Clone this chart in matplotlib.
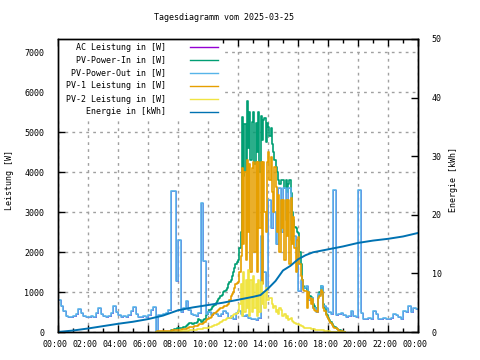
import numpy as np
import matplotlib
matplotlib.use('Agg')
import matplotlib.pyplot as plt
from matplotlib.lines import Line2D
from matplotlib.patches import Rectangle
from matplotlib.ticker import MultipleLocator
import matplotlib.transforms as mtransforms

plt.rcParams['font.family'] = ['DejaVu Sans Mono']
plt.rcParams['font.size'] = 6

TITLE = 'Tagesdiagramm vom 2025-03-25'
x_ticklabels = ['00:00', '02:00', '04:00', '06:00', '08:00', '10:00', '12:00',
                '14:00', '16:00', '18:00', '20:00', '22:00', '00:00']
names = ['AC Leistung in [W]', 'PV-Power-In in [W]', 'PV-Power-Out in [W]',
         'PV-1 Leistung in [W]', 'PV-2 Leistung in [W]', 'Energie in [kWh]']
colors = ['#9400d3', '#009e73', '#56b4e9', '#e69f00', '#f0e442', '#0072b2']

# PV-Power-Out, 10-minuten Werte 00:00 .. 24:00
pv_out = [800, 650, 520, 400, 380, 380,
          400, 450, 580, 480, 400, 380,
          380, 400, 380, 480, 600, 450,
          400, 380, 400, 480, 640, 500,
          430, 380, 400, 380, 420, 520,
          620, 450, 380, 380, 400, 380,
          420, 550, 620, 0, 420, 430,
          450, 480, 550, 3530, 3530, 1280,
          2290, 500, 600, 780, 550, 450,
          420, 400, 480, 3220, 1780, 450,
          500, 420, 480, 460, 400, 450,
          520, 480, 350, 400, 320, 480,
          520, 450, 400, 420, 350, 320,
          330, 300, 350, 2400, 1500, 1100,
          3300, 2600, 3000, 2200, 3600, 2500,
          3600, 2800, 3600, 2300, 2400, 2100,
          1030, 1300, 1100, 1150, 800, 850,
          600, 500, 950, 1150, 650, 600,
          500, 450, 3550, 420, 450, 480,
          420, 380, 400, 530, 400, 380,
          3550, 480, 330, 330, 350, 330,
          530, 450, 330, 330, 350, 330,
          330, 340, 450, 430, 380, 330,
          530, 500, 650, 500, 600, 580,
          580]
ac_leistung = list(pv_out)

# PV Werte 06:30 .. 19:10 (5 min)
pv_start = 6.5
pv_in = [0, 0, 0, 0, 0, 0,
         0, 0, 0, 0, 0, 0, 40, 50, 60, 70, 80, 90,
         100, 100, 100, 110, 120, 130, 150, 180, 200, 220, 220, 210,
         200, 220, 230, 240, 330, 300, 250, 260, 300, 330, 420, 450,
         500, 540, 580, 620, 650, 680, 720, 780, 830, 860, 900, 930,
         1000, 1030, 1050, 1100, 1200, 1250, 1300, 1400, 1500, 1600, 1700, 1750,
         1800, 2100, 2500, 5370, 3900, 5200, 4000, 5770, 4600, 5500, 4300, 5250,
         5500, 4200, 5240, 4500, 5500, 4000, 5400, 4800, 5300, 5350, 4760, 5240,
         5140, 4900, 5110, 4700, 4500, 4300, 4130, 4000, 3800, 3700, 3800, 3800,
         3800, 3600, 3800, 3500, 3700, 3800, 3480, 3000, 2800, 2620, 2600, 2500,
         2470, 2000, 1700, 1300, 1150, 1100, 1100, 1050, 1000, 900, 870, 850,
         700, 650, 600, 580, 900, 1000, 1160, 1100, 700, 600, 450, 420,
         350, 300, 250, 200, 150, 130, 100, 80, 60, 40, 30, 20,
         10, 0, 0]
pv1 = [0, 20, 20, 20, 20, 20,
       20, 25, 25, 30, 30, 30, 35, 40, 40, 45, 50, 55,
       60, 60, 60, 65, 70, 75, 80, 90, 100, 120, 120, 120,
       130, 140, 150, 160, 180, 190, 200, 210, 220, 250, 300, 320,
       330, 350, 380, 420, 450, 480, 500, 530, 560, 580, 600, 610,
       630, 640, 650, 680, 700, 800, 900, 950, 1000, 1100, 1200, 1230,
       1250, 1500, 1900, 4100, 2200, 4000, 1800, 4300, 2500, 4200, 1500, 4100,
       4250, 2000, 4250, 1500, 4250, 2600, 4250, 1200, 4250, 3000, 2500, 4250,
       4500, 3800, 4380, 3500, 3000, 4130, 3630, 2500, 3420, 2000, 3300, 2600,
       3300, 1800, 3300, 2400, 3300, 1700, 3350, 2200, 2870, 2100, 1500, 2300,
       2370, 1700, 1400, 1290, 1050, 1030, 1030, 600, 1000, 860, 700, 820,
       600, 550, 520, 500, 850, 900, 1050, 1000, 600, 520, 420, 380,
       320, 280, 230, 180, 130, 110, 90, 70, 50, 30, 20, 15,
       10, 0, 0]
pv2 = [0, 0, 0, 0, 0, 0,
       0, 0, 0, 0, 0, 0, 0, 0, 0, 0, 0, 0,
       10, 10, 15, 20, 20, 20, 25, 30, 35, 40, 45, 50,
       50, 55, 60, 65, 70, 75, 80, 85, 90, 95, 100, 105,
       110, 120, 130, 140, 150, 165, 180, 190, 200, 220, 250, 280,
       300, 310, 330, 340, 350, 360, 380, 400, 420, 440, 450, 480,
       500, 700, 1200, 400, 1500, 500, 1300, 600, 1540, 400, 1300, 500,
       1400, 600, 1200, 400, 1300, 500, 1250, 700, 1000, 600, 1100, 800,
       800, 860, 850, 700, 600, 650, 500, 550, 450, 600, 550, 400,
       400, 450, 350, 400, 300, 320, 350, 280, 250, 230, 200, 210,
       200, 180, 150, 140, 120, 110, 100, 100, 100, 90, 80, 80,
       70, 65, 60, 55, 50, 50, 50, 45, 40, 35, 30, 25,
       20, 15, 10, 5, 0, 0, 0, 0, 0, 0, 0, 0,
       0, 0, 0]

# Energie in kWh
e_hours = [0, 1, 2, 3, 4, 5, 6, 7, 8, 9, 10, 11, 12, 13, 13.5, 14, 14.5,
           15, 15.5, 16, 16.5, 17, 18, 19, 20, 21, 22, 23, 24]
energie = [0, 0.25, 0.6, 1.0, 1.4, 1.75, 2.2, 2.8, 3.7, 4.2, 4.6, 5.0, 5.5,
           6.0, 6.3, 7.4, 8.7, 10.5, 11.3, 12.4, 13.1, 13.6, 14.1, 14.6,
           15.2, 15.6, 15.9, 16.3, 16.9]

t_out = np.arange(len(pv_out)) / 6
t_pv = pv_start + np.arange(len(pv_in)) / 12

fig = plt.figure(figsize=(4.8, 3.6), dpi=100)
ax = fig.add_axes([58 / 480, 1 - 332 / 360, 360 / 480, 293 / 360])
ax2 = ax.twinx()

lw = 1.2
ax.step(t_out, ac_leistung, where='post', color=colors[0], lw=0.6, zorder=2)
ax.step(t_pv, pv_in, where='post', color=colors[1], lw=lw, zorder=2)
ax.step(t_out, pv_out, where='post', color=colors[2], lw=lw, zorder=2)
ax.step(t_pv, pv1, where='post', color=colors[3], lw=lw, zorder=2)
ax.step(t_pv, pv2, where='post', color=colors[4], lw=lw, zorder=2)
ax2.plot(e_hours, energie, color=colors[5], lw=1.4)

ax.set_xlim(0, 24)
ax.set_ylim(0, 7330)
ax2.set_ylim(0, 50)
ax.set_xticks(np.arange(0, 25, 2))
ax.set_xticklabels(x_ticklabels)
ax.xaxis.set_minor_locator(MultipleLocator(1))
ax.yaxis.set_major_locator(MultipleLocator(1000))
ax2.yaxis.set_major_locator(MultipleLocator(10))

ax.tick_params(direction='in', which='both', top=True, length=5, width=1,
               labelsize=6, pad=6)
ax.tick_params(which='minor', length=3)
ax.tick_params(axis='y', pad=10)
ax2.tick_params(direction='in', length=5, width=1, labelsize=6, pad=10)
offset = mtransforms.ScaledTranslation(-3 / 100, 0, fig.dpi_scale_trans)
for lab in ax.get_xticklabels():
    lab.set_transform(lab.get_transform() + offset)

ax.set_axisbelow(True)
ax.grid(True, which='major', color='#a0a0a0', ls=(0, (2, 3)), lw=1)
for a in (ax, ax2):
    for s in a.spines.values():
        s.set_linewidth(1)

ax.set_ylabel('Leistung [W]', fontsize=6)
ax.yaxis.set_label_coords((14 - 58) / 360, 0.52)
ax2.set_ylabel('Energie [kWh]', fontsize=6, rotation=90)
ax2.yaxis.set_label_coords((449 - 58) / 360, 0.52)
fig.text(223.5 / 480, 1 - 17 / 360, TITLE, ha='center', va='center', fontsize=6)

# Legende
ax.add_patch(Rectangle((0, 1 - 80 / 293), 164 / 360, 80 / 293,
                       transform=ax.transAxes, facecolor='white',
                       edgecolor='none', zorder=1))
for i, (name, col) in enumerate(zip(names, colors)):
    y = 1 - (47 + 13 * i) / 360
    fig.text(166 / 480, y, name, ha='right', va='center', fontsize=6)
    fig.add_artist(Line2D([190 / 480, 218 / 480], [y, y], color=col, lw=1,
                          transform=fig.transFigure))

fig.savefig('out.png', dpi=100)
